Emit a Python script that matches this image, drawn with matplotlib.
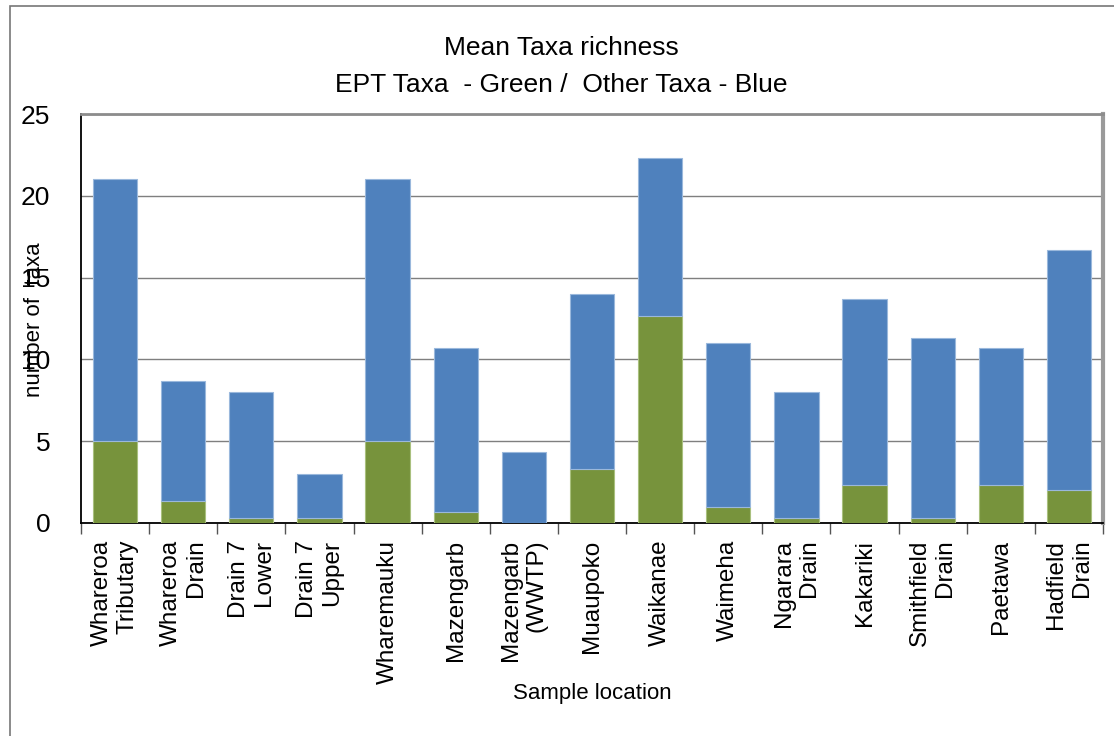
import matplotlib.pyplot as plt
from matplotlib.patches import Rectangle
import numpy as np

plt.rcParams['font.family'] = ['Liberation Sans', 'DejaVu Sans']

# mean taxa richness per site
sites = ['Whareroa\nTributary', 'Whareroa\nDrain', 'Drain 7\nLower', 'Drain 7\nUpper',
         'Wharemauku', 'Mazengarb', 'Mazengarb\n(WWTP)', 'Muaupoko', 'Waikanae',
         'Waimeha', 'Ngarara\nDrain', 'Kakariki', 'Smithfield\nDrain', 'Paetawa',
         'Hadfield\nDrain']
ept_taxa = [5.0, 1.33, 0.33, 0.33, 5.0, 0.67, 0.0, 3.33, 12.67, 1.0, 0.33, 2.33, 0.33, 2.33, 2.0]
total_taxa = [21.0, 8.67, 8.0, 3.0, 21.0, 10.67, 4.33, 14.0, 22.33, 11.0, 8.0, 13.67, 11.33, 10.67, 16.67]
other_taxa = [t - e for t, e in zip(total_taxa, ept_taxa)]

green = '#77933C'
blue = '#4F81BD'

fig = plt.figure(figsize=(11.14, 7.36), dpi=100)
ax = fig.add_axes([81 / 1114, 1 - 523 / 736, (1103 - 81) / 1114, (523 - 114) / 736])

x = np.arange(len(sites))
ax.bar(x, ept_taxa, width=0.65, color=green, edgecolor='#a9c07e', linewidth=0.8, zorder=3)
ax.bar(x, other_taxa, bottom=ept_taxa, width=0.65, color=blue, edgecolor='#9ab8dc',
       linewidth=0.8, zorder=3)

ax.set_xlim(-0.5, len(sites) - 0.5)
ax.set_ylim(0, 25)
ax.set_yticks([0, 5, 10, 15, 20, 25])
ax.yaxis.grid(True, color='#7f7f7f', linewidth=1.0, zorder=0)
ax.tick_params(axis='y', length=0, pad=22, labelsize=19)

ax.set_xticks(x)
ax.set_xticklabels(sites, rotation=90, fontsize=17.5, ha='center', va='top',
                   multialignment='right')
ax.tick_params(axis='x', length=0, pad=12)
ax.set_xticks(np.arange(-0.5, len(sites)), minor=True)
ax.tick_params(axis='x', which='minor', length=8, width=1, color='#555555', direction='out')

for side in ['left', 'bottom']:
    ax.spines[side].set_color('black')
    ax.spines[side].set_linewidth(1.3)
ax.spines['top'].set_color('#8c8c8c')
ax.spines['top'].set_linewidth(2)
ax.spines['right'].set_color('#9a9a9a')
ax.spines['right'].set_linewidth(3)

fig.text(561 / 1114, 1 - 48 / 736, 'Mean Taxa richness', ha='center', va='center', fontsize=19)
fig.text(561 / 1114, 1 - 85 / 736, 'EPT Taxa  - Green /  Other Taxa - Blue',
         ha='center', va='center', fontsize=19)
fig.text(35 / 1114, 1 - 320 / 736, 'number of  taxa', rotation=90, ha='center',
         va='center', fontsize=16)
fig.text(592 / 1114, 1 - 694 / 736, 'Sample location', ha='center', va='center', fontsize=16)

# outer chart frame
fig.patches.append(Rectangle((10 / 1114, -0.1), 1.2, 1.1 - 6 / 736, transform=fig.transFigure,
                             fill=False, edgecolor='#777777', linewidth=1.2))

fig.savefig('out.png', dpi=100)
